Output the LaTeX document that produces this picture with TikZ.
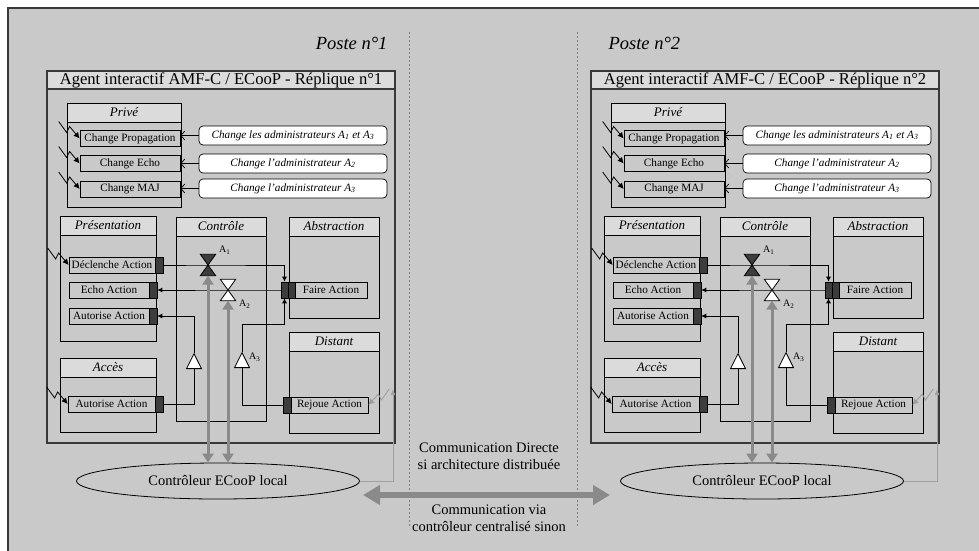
\documentclass[tikz,border=0pt]{standalone}
\usepackage{fontspec}
\setmainfont{Liberation Serif}
\usetikzlibrary{arrows.meta,shapes.geometric}
\definecolor{bg}{gray}{.79}
\definecolor{band}{gray}{.86}
\definecolor{port}{gray}{.24}
\definecolor{garr}{gray}{.54}
\definecolor{frame}{gray}{.22}
\tikzset{
 agentbox/.style={draw=frame,line width=1.1pt,fill=bg},
 agenttitle/.style={draw=frame,line width=1.1pt,fill=band,minimum width=348pt,minimum height=18pt,inner sep=0pt,font={\fontsize{16.6}{17}\selectfont}},
 band/.style={draw,line width=.8pt,fill=band,minimum height=19pt,inner sep=0pt,font={\fontsize{13}{13}\selectfont\itshape}},
 item/.style={draw,line width=.7pt,fill=bg,minimum height=16pt,inner sep=0pt,font={\fontsize{11.2}{12}\selectfont}},
 port/.style={draw,line width=.6pt,fill=port,minimum width=8pt,minimum height=16pt,inner sep=0pt},
 note/.style={draw,line width=.7pt,fill=white,rounded corners=4pt,minimum width=188pt,minimum height=19pt,inner sep=0pt,font={\fontsize{11.2}{12}\selectfont\itshape}},
 wire/.style={line width=.7pt,-{Latex[length=5pt,width=5pt]}},
 plain/.style={line width=.7pt},
 notearr/.style={line width=.7pt,-{Straight Barb[length=4pt,width=9pt]}},
 zap/.style={line width=.8pt,-{Latex[length=6pt,width=6pt]}},
 gzap/.style={zap,draw=garr!85},
 hglass/.style={draw,line width=.8pt},
 valve/.style={minimum width=15pt,minimum height=21pt,inner sep=0pt},
 gate/.style={draw,line width=.8pt,fill=white,isosceles triangle,shape border rotate=90,isosceles triangle stretches,minimum width=15pt,minimum height=15pt,inner sep=0pt},
 lbl/.style={font={\fontsize{10}{10}\selectfont},inner sep=0pt},
 ell/.style={draw,ellipse,line width=.8pt,minimum width=283pt,minimum height=36pt,inner sep=0pt,font={\fontsize{14.5}{15}\selectfont}},
 garrow/.style={draw=garr,line width=3pt,{Triangle[length=9pt,width=11pt]}-{Triangle[length=9pt,width=11pt]}},
 gline/.style={draw=garr!80,line width=1pt,-{Latex[length=6pt,width=5pt]}},
 bigarrow/.style={draw=garr,line width=6pt,{Triangle[length=17pt,width=19pt]}-{Triangle[length=17pt,width=19pt]}},
 sep/.style={draw=gray,line width=1pt,dash pattern=on 2pt off 2pt},
 comm/.style={align=center,font={\fontsize{14.5}{17}\selectfont}},
 poste/.style={font={\fontsize{18.5}{20}\selectfont\itshape}}
}
\newcommand\mkpanel[6]{\draw[line width=.8pt,fill=bg](#2,#3) rectangle (#4,#5);
 \node[band,minimum width={(#4-#2)*1pt}] (#1) at ({(#2+#4)/2},{#3+9.5}) {#6};}
\newcommand\zap[1]{\draw[zap]([shift={(-21,-17)}]#1.west)--++(8,11)--++(3,-6)--(#1.west);}
\begin{document}
\begin{tikzpicture}[x=1pt,y=-1pt]
\useasboundingbox (0,0) rectangle (979,550);
\fill[bg](8,8) rectangle (985,556);
\draw[frame,line width=1.5pt](8,556)--(8,8)--(985,8);
\node[poste,anchor=east] (po1) at (391,43) {Poste n°1};
\node[poste,anchor=west] (po2) at (605,43) {Poste n°2};
\draw[sep](409,32)--(409,527);\draw[sep](577,32)--(577,527);
\foreach \r/\dx in {1/0,2/544}{
\begin{scope}[shift={(\dx,0)}]
\draw[agentbox](47,71) rectangle (395,443);
\node[agenttitle] (ag\r) at (221,80) {Agent interactif AMF-C / ECooP - Réplique n°\r};
\mkpanel{pv\r}{67}{103}{181}{207}{Privé}
\mkpanel{pr\r}{60}{216}{156}{341}{Présentation}
\mkpanel{ac\r}{60}{358}{156}{432}{Accès}
\mkpanel{ct\r}{176}{217}{266}{421}{Contrôle}
\mkpanel{ab\r}{289}{217}{379}{318}{Abstraction}
\mkpanel{di\r}{289}{332}{379}{433}{Distant}
% prive
\node[item,minimum width=100pt] (cp\r) at (130,138.5) {Change Propagation};
\node[item,minimum width=100pt] (ce\r) at (130,163.5) {Change Echo};
\node[item,minimum width=100pt] (cm\r) at (130,189) {Change MAJ};
\node[note] (np\r) at (293,135.5) {Change les administrateurs A\textsubscript{1} et A\textsubscript{3}};
\node[note] (ne\r) at (293,163.5) {Change l'administrateur A\textsubscript{2}};
\node[note] (nm\r) at (293,188.5) {Change l'administrateur A\textsubscript{3}};
\foreach \a/\b in {np/cp,ne/ce,nm/cm}\draw[notearr](\a\r.west)--(\b\r.east |- \a\r.west);
% presentation, acces
\node[item,minimum width=86pt] (dc\r) at (112,265) {Déclenche Action};\node[port] (dcp\r) at (159,265) {};
\node[item,minimum width=80pt] (ec\r) at (109,290) {Echo Action};\node[port] (ecp\r) at (153,290) {};
\node[item,minimum width=80pt] (au\r) at (109,316) {Autorise Action};\node[port] (aup\r) at (153,316) {};
\node[item,minimum width=87pt] (aa\r) at (111.5,404) {Autorise Action};\node[port] (aap\r) at (159,404) {};
% abstraction, distant
\node[item,minimum width=72pt] (fa\r) at (331,290) {Faire Action};
\node[port,minimum width=7pt] (fap\r) at (284.5,290) {};\node[port,minimum width=7pt] (faq\r) at (291.5,290) {};
\node[item,minimum width=77pt] (rj\r) at (329.5,405) {Rejoue Action};\node[port] (rjp\r) at (287,405) {};
% controle
\node[valve] (va\r) at (208,265) {};\node[valve] (vb\r) at (228,290) {};
\node[gate] (ga\r) at (194,364) {};\node[gate] (gb\r) at (242,363) {};
\draw[wire](dcp\r.east)--(va\r.center)-|(fap\r.north);
\draw[wire](fap\r.west)--(vb\r.center)--(ecp\r.east);
\draw[plain](aap\r.east)-|(ga\r.south);\draw[wire](ga\r.north)|-(aup\r.east);
\draw[plain](rjp\r.west)-|(gb\r.south);\draw[wire](gb\r.north)|-(fap\r.south |- 0,324)--(fap\r.south);
\draw[hglass,fill=port](va\r.north west)--(va\r.north east)--(va\r.south west)--(va\r.south east)--cycle;
\draw[hglass,fill=white](vb\r.north west)--(vb\r.north east)--(vb\r.south west)--(vb\r.south east)--cycle;
\node[lbl,anchor=west] (la\r) at (219,250) {A\textsubscript{1}};
\node[lbl,anchor=west] (lb\r) at (239,304) {A\textsubscript{2}};
\node[lbl,anchor=west] (lc\r) at (249,357) {A\textsubscript{3}};
% declencheurs
\zap{cp\r}\zap{ce\r}\zap{cm\r}\zap{dc\r}\zap{aa\r}
\draw[gzap]([shift={(21,-16)}]rj\r.east)--++(-8,11)--++(-3,-6)--(rj\r.east);
% controleur local
\node[ell] (el\r) at (218,481) {Contrôleur ECooP local};
\draw[garrow](va\r.south)--(va\r.south |- el\r.north);
\draw[garrow](vb\r.south)--(vb\r.south |- el\r.north);
\coordinate (gt\r) at (393,389);
\draw[gline](el\r.east)-|(gt\r);
\end{scope}}
\coordinate (bl) at (363,495);\coordinate (br) at (610,495);
\draw[bigarrow](bl)--(br);
\node[comm] (cd) at (489,456) {Communication Directe\\si architecture distribuée};
\node[comm] (cv) at (489,518) {Communication via\\contrôleur centralisé sinon};
\end{tikzpicture}
\end{document}
